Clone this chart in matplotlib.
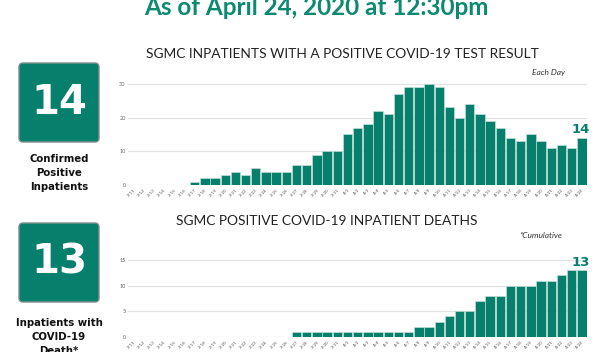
import numpy as np
import matplotlib
matplotlib.use("Agg")
import matplotlib.pyplot as plt
from matplotlib.patches import FancyBboxPatch

# dates 3/11 .. 4/24
dates = ["3/%d" % d for d in range(11, 32)] + ["4/%d" % d for d in range(1, 25)]

# inpatients with positive test, each day
positives = [0, 0, 0, 0, 0, 0, 1, 2, 2, 3, 4, 3, 5, 4, 4, 4, 6, 6, 9, 10, 10,
             15, 17, 18, 22, 21, 27, 29, 29, 30, 29, 23, 20, 24, 21, 19, 17,
             14, 13, 15, 13, 11, 12, 11, 14]

# cumulative deaths
deaths = [0, 0, 0, 0, 0, 0, 0, 0, 0, 0, 0, 0, 0, 0, 0, 0, 1, 1, 1, 1, 1,
          1, 1, 1, 1, 1, 1, 1, 2, 2, 3, 4, 5, 5, 7, 8, 8,
          10, 10, 10, 11, 11, 12, 13, 13]

top_ticks = [0, 10, 20, 30]
bot_ticks = [0, 5, 10, 15]

teal = "#067f6d"
title_teal = "#0b8a70"
W, H = 602, 352

plt.rcParams['font.family'] = ['Lato', 'DejaVu Sans']

fig = plt.figure(figsize=(W / 100, H / 100), dpi=100)


def px_axes(left, bottom_y, width, height):
    # left / width / height in pixels, bottom_y = pixel row of the x axis
    return fig.add_axes([left / W, (H - bottom_y) / H, width / W, height / H])


def bar_chart(ax, vals, ticks, ymax):
    x = np.arange(len(vals))
    ax.bar(x, vals, width=0.92, color=teal, edgecolor="#cfe7e1", linewidth=0.4,
           zorder=3)
    ax.set_xlim(-0.5, len(vals) - 0.5)
    ax.set_ylim(0, ymax)
    ax.set_yticks(ticks)
    ax.set_yticklabels([str(t) for t in ticks], fontsize=4, color="#666666")
    ax.set_xticks(x)
    ax.set_xticklabels(dates, rotation=45, ha="right", rotation_mode="anchor",
                       fontsize=3.2, color="#555555")
    ax.tick_params(length=0, pad=2)
    ax.grid(axis="y", color="#e2e2e2", linewidth=0.9, zorder=0)
    for s in ax.spines.values():
        s.set_visible(False)
    ax.set_facecolor("none")
    # label on last bar
    ax.text(x[-1] - 0.1, vals[-1] + ymax * 0.02, str(vals[-1]), ha="center",
            va="bottom", fontsize=9.5, fontweight="bold", color=teal,
            family="DejaVu Sans")


ax1 = px_axes(128.4, 185, 458.6, 30.5 * 3.37)
bar_chart(ax1, positives, top_ticks, 30.5)

ax2 = px_axes(128.4, 337, 458.6, 15.6 * 5.13)
bar_chart(ax2, deaths, bot_ticks, 15.6)

# overlay in pixel coordinates for text and boxes
ov = fig.add_axes([0, 0, 1, 1])
ov.set_xlim(0, W)
ov.set_ylim(H, 0)
ov.axis("off")
ov.set_zorder(-1)

ov.text(316, 15, "As of April 24, 2020 at 12:30pm", ha="center", va="baseline",
        fontsize=17.5, fontweight="bold", color=title_teal)
ov.text(342, 58, "SGMC INPATIENTS WITH A POSITIVE COVID-19 TEST RESULT",
        ha="center", va="baseline", fontsize=9.9, fontweight="normal",
        color="#222222")
ov.text(565, 75, "Each Day", ha="right", va="baseline", fontsize=6,
        style="italic", color="#333333")
ov.text(327, 225, "SGMC POSITIVE COVID-19 INPATIENT DEATHS",
        ha="center", va="baseline", fontsize=9.9, fontweight="normal",
        color="#222222")
ov.text(562, 238, "*Cumulative", ha="right", va="baseline", fontsize=6,
        style="italic", color="#333333")

boxes = [(62, "14", ["Confirmed", "Positive", "Inpatients"], 159),
         (222, "13", ["Inpatients with", "COVID-19", "Death*"], 323)]
for top, num, lines, ty in boxes:
    ov.add_patch(FancyBboxPatch((19, top + 1), 80, 79,
                                boxstyle="round,pad=0,rounding_size=4",
                                facecolor=teal, edgecolor="#7f8f8b",
                                linewidth=1.0))
    ov.text(59, top + 41, num, ha="center", va="center", fontsize=29,
            fontweight="bold", color="white", family="DejaVu Sans")
    for i, ln in enumerate(lines):
        ov.text(59, ty + i * 14, ln, ha="center", va="center", fontsize=7.3,
                fontweight="bold", color="#111111", family="DejaVu Sans")

fig.savefig("out.png", dpi=100)
